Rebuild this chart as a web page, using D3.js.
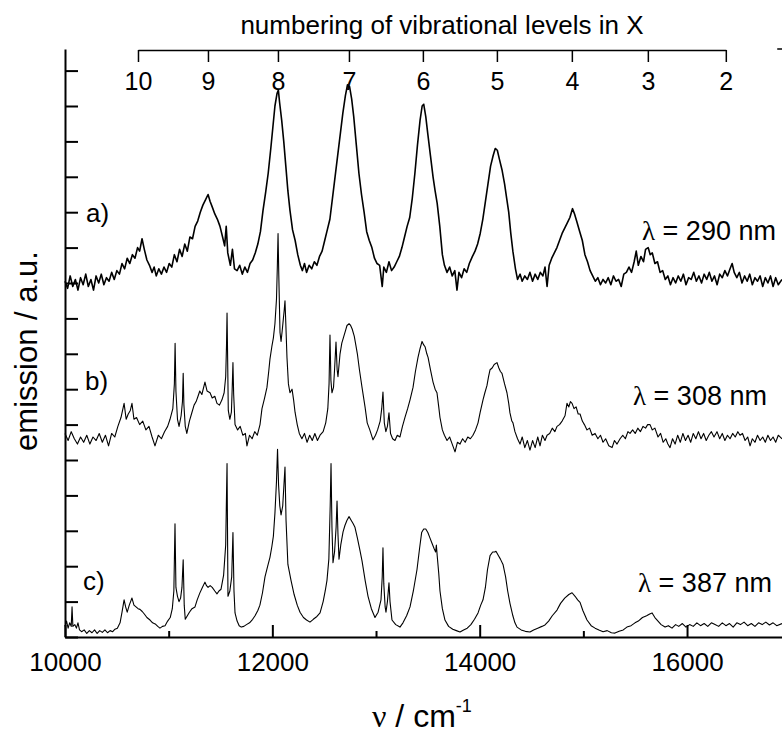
<!DOCTYPE html>
<html>
<head>
<meta charset="utf-8">
<script src="https://cdnjs.cloudflare.com/ajax/libs/d3/7.8.5/d3.min.js"></script>
<style>
  body { margin: 0; background: #fff; }
  svg { display: block; font-family: "Liberation Sans", Arial, sans-serif; }
  .trace { fill: none; stroke: #000; stroke-linejoin: round; }
</style>
</head>
<body>
<div id="chart"></div>
<script>
// emission spectra, [wavenumber cm-1, intensity above own baseline]
var spectrumA = [
  [10000,0.05],[10025,-0.15],[10050,0.2],[10075,-0.1],[10100,0.1],[10125,-0.2],[10150,0.15],[10175,-0.05],
  [10200,0.25],[10225,-0.1],[10250,0.1],[10275,-0.2],[10300,0.2],[10325,0.0],[10350,0.25],[10375,-0.05],
  [10400,0.15],[10425,0.05],[10450,0.3],[10475,0.1],[10500,0.35],[10525,0.25],[10550,0.55],[10575,0.4],
  [10600,0.7],[10625,0.55],[10650,0.8],[10675,0.7],[10700,1.0],[10720,0.9],[10743,1.25],[10765,0.95],
  [10790,0.65],[10815,0.5],[10840,0.3],[10860,0.45],[10880,0.2],[10905,0.4],[10930,0.25],[10955,0.45],
  [10980,0.3],[11005,0.55],[11030,0.45],[11055,0.8],[11080,0.6],[11105,0.95],[11130,0.75],[11155,1.1],
  [11180,0.9],[11205,1.3],[11230,1.25],[11255,1.6],[11280,1.75],[11305,2.0],[11330,2.2],[11355,2.35],
  [11380,2.5],[11400,2.3],[11420,2.15],[11445,1.95],[11470,1.8],[11495,1.6],[11520,1.3],[11540,1.05],
  [11555,1.6],[11570,0.85],[11595,0.5],[11615,0.95],[11635,0.4],[11660,0.35],[11685,0.5],[11710,0.25],
  [11735,0.45],[11760,0.3],[11785,0.55],[11810,0.65],[11835,0.85],[11860,1.1],[11885,1.45],[11910,2.05],
  [11935,2.55],[11960,3.1],[11985,3.8],[12005,4.4],[12025,5.0],[12045,5.35],[12058,5.45],[12070,5.1],
  [12090,4.6],[12110,4.0],[12130,3.3],[12150,2.6],[12170,2.05],[12195,1.5],[12220,1.2],[12245,0.8],
  [12270,0.5],[12290,0.35],[12310,0.55],[12330,0.3],[12355,0.5],[12380,0.4],[12405,0.6],[12430,0.5],
  [12455,0.75],[12480,0.9],[12505,1.2],[12530,1.5],[12555,1.8],[12580,2.4],[12605,3.0],[12630,3.6],
  [12655,4.2],[12680,4.8],[12705,5.3],[12725,5.6],[12745,5.55],[12765,5.2],[12785,4.7],[12810,3.9],
  [12835,3.1],[12860,2.5],[12885,2.0],[12910,1.45],[12935,1.2],[12960,1.0],[12985,0.7],[13010,0.55],
  [13035,0.5],[13060,-0.1],[13075,0.45],[13100,0.3],[13125,0.6],[13150,0.35],[13175,0.45],[13200,0.6],
  [13225,0.75],[13250,1.0],[13275,1.3],[13300,1.6],[13325,1.85],[13350,2.4],[13375,3.1],[13400,3.9],
  [13425,4.6],[13445,5.0],[13460,5.05],[13480,4.7],[13500,4.2],[13525,3.6],[13550,3.0],[13570,2.6],
  [13590,2.25],[13615,1.6],[13640,0.8],[13660,0.5],[13685,0.3],[13710,0.45],[13735,0.2],[13760,0.35],
  [13781,-0.2],[13800,0.3],[13825,0.15],[13850,0.4],[13875,0.3],[13900,0.55],[13930,0.75],[13955,0.9],
  [13980,1.1],[14005,1.4],[14030,1.8],[14055,2.3],[14080,2.8],[14105,3.3],[14130,3.6],[14150,3.8],
  [14170,3.75],[14190,3.5],[14215,3.2],[14240,2.8],[14260,2.4],[14280,2.0],[14300,1.4],[14320,0.9],
  [14345,0.4],[14365,0.1],[14390,0.25],[14410,0.05],[14435,0.2],[14460,0.1],[14485,0.3],[14510,0.05],
  [14535,0.25],[14560,0.1],[14585,0.3],[14610,0.2],[14630,0.45],[14650,-0.1],[14670,0.5],[14695,0.7],
  [14720,0.85],[14745,1.0],[14770,1.2],[14795,1.4],[14820,1.55],[14845,1.7],[14870,1.85],[14895,2.1],
  [14915,1.95],[14940,1.7],[14965,1.45],[14990,1.2],[15015,0.8],[15040,0.6],[15065,0.35],[15090,0.2],
  [15115,0.05],[15140,0.15],[15165,-0.05],[15190,0.1],[15215,0.0],[15240,0.15],[15265,-0.05],[15290,0.2],
  [15315,0.05],[15340,0.1],[15365,-0.1],[15390,0.25],[15415,0.3],[15440,0.45],[15465,0.3],[15490,0.6],
  [15510,0.9],[15530,0.5],[15555,0.75],[15580,0.6],[15600,0.95],[15625,1.0],[15645,0.8],[15665,0.85],
  [15690,0.55],[15715,0.6],[15740,0.3],[15765,0.35],[15790,0.1],[15815,0.2],[15840,-0.05],[15865,0.15],
  [15890,0.0],[15915,0.2],[15940,0.05],[15965,0.25],[15990,-0.05],[16015,0.15],[16040,0.1],[16065,0.3],
  [16090,0.05],[16115,0.2],[16140,0.0],[16165,0.25],[16190,0.1],[16215,0.3],[16240,0.05],[16265,0.2],
  [16290,-0.05],[16315,0.25],[16340,0.15],[16365,0.35],[16390,0.2],[16415,0.4],[16435,0.55],[16455,0.3],
  [16480,0.15],[16505,0.3],[16530,0.0],[16555,0.2],[16580,0.05],[16605,0.25],[16630,-0.05],[16655,0.15],
  [16680,0.05],[16705,0.2],[16730,-0.1],[16755,0.15],[16780,0.0],[16805,0.2],[16830,-0.1],[16855,0.15],
  [16880,-0.05],[16916,0.1]
];

var spectrumB = [
  [10000,0.1],[10030,-0.1],[10060,0.15],[10090,-0.05],[10120,-0.2],[10150,0.0],[10180,-0.15],[10210,0.05],
  [10240,-0.2],[10270,0.0],[10300,-0.1],[10330,0.1],[10360,-0.15],[10390,0.05],[10420,-0.25],[10450,0.1],
  [10480,0.0],[10510,0.3],[10540,0.55],[10570,0.95],[10590,0.5],[10610,0.65],[10630,0.75],[10646,0.95],
  [10665,0.5],[10690,0.55],[10720,0.35],[10750,0.45],[10780,0.2],[10810,0.3],[10840,0.0],[10868,-0.25],
  [10900,0.05],[10930,-0.05],[10960,0.15],[10990,0.3],[11013,0.5],[11040,0.8],[11055,1.5],[11062,2.65],
  [11070,1.3],[11085,0.5],[11100,0.3],[11120,0.6],[11133,1.0],[11140,1.8],[11147,0.9],[11160,0.3],
  [11175,0.1],[11200,0.45],[11220,0.65],[11245,0.9],[11265,1.0],[11283,1.15],[11300,1.3],[11320,1.2],
  [11350,1.55],[11370,1.3],[11399,1.25],[11420,1.1],[11445,1.15],[11466,0.95],[11490,0.9],[11514,1.05],
  [11535,1.25],[11550,1.7],[11558,2.6],[11563,3.5],[11568,2.4],[11575,0.75],[11590,0.5],[11605,0.7],
  [11612,1.3],[11620,2.1],[11627,1.2],[11640,0.35],[11665,0.2],[11690,0.3],[11715,0.05],[11740,0.1],
  [11755,-0.25],[11780,0.05],[11805,-0.05],[11830,0.15],[11855,0.05],[11881,0.35],[11900,0.8],[11925,1.1],
  [11948,1.4],[11965,1.85],[11977,2.2],[11995,2.55],[12010,2.8],[12025,3.2],[12040,3.9],[12048,4.8],
  [12055,5.75],[12062,4.6],[12074,2.95],[12084,2.7],[12095,3.0],[12105,3.3],[12115,3.6],[12122,3.85],
  [12130,3.2],[12141,2.25],[12155,1.5],[12170,1.25],[12190,1.35],[12205,1.05],[12219,0.7],[12240,0.35],
  [12260,0.1],[12285,-0.05],[12310,0.1],[12335,-0.15],[12360,0.05],[12385,-0.1],[12410,0.1],[12435,-0.1],
  [12460,0.05],[12490,0.15],[12515,0.4],[12535,0.8],[12547,1.5],[12556,2.88],[12565,1.6],[12575,1.25],
  [12590,1.4],[12600,1.9],[12614,2.68],[12625,1.9],[12633,1.7],[12653,2.35],[12670,2.65],[12690,2.85],
  [12705,3.0],[12720,3.15],[12740,3.2],[12755,3.15],[12770,3.05],[12790,2.85],[12805,2.6],[12820,2.35],
  [12840,1.9],[12865,1.4],[12894,0.85],[12915,0.4],[12940,0.2],[12971,-0.08],[12995,0.05],[13015,0.2],
  [13040,0.45],[13055,0.8],[13067,1.27],[13080,0.4],[13095,0.15],[13110,0.3],[13125,0.68],[13140,0.1],
  [13160,-0.05],[13183,-0.1],[13205,0.05],[13231,0.0],[13255,0.3],[13280,0.56],[13305,0.8],[13328,1.05],
  [13357,1.4],[13380,1.85],[13405,2.25],[13425,2.5],[13444,2.7],[13460,2.6],[13473,2.55],[13490,2.35],
  [13502,2.25],[13525,1.9],[13550,1.55],[13570,1.35],[13588,1.25],[13605,0.85],[13617,0.55],[13640,0.2],
  [13660,0.05],[13685,-0.1],[13710,0.0],[13735,-0.2],[13762,-0.42],[13785,-0.15],[13810,-0.2],[13835,-0.05],
  [13860,-0.15],[13885,0.0],[13910,-0.05],[13935,0.05],[13960,0.2],[13984,0.4],[14005,0.7],[14032,1.05],
  [14050,1.25],[14070,1.45],[14085,1.7],[14100,1.9],[14120,1.95],[14140,2.05],[14167,2.1],[14185,1.95],
  [14200,1.85],[14215,1.8],[14240,1.5],[14263,1.25],[14280,0.95],[14292,0.68],[14310,0.45],[14321,0.4],
  [14340,0.15],[14365,-0.05],[14389,-0.2],[14410,0.0],[14435,-0.3],[14460,-0.1],[14485,-0.37],[14510,-0.1],
  [14535,-0.3],[14560,0.0],[14582,-0.25],[14605,0.05],[14630,-0.1],[14650,0.05],[14675,0.1],[14700,0.25],
  [14725,0.15],[14746,0.3],[14770,0.35],[14795,0.45],[14823,0.6],[14842,0.95],[14860,0.85],[14875,1.0],
  [14891,0.95],[14910,0.8],[14930,0.85],[14950,0.65],[14968,0.65],[14990,0.45],[15010,0.35],[15035,0.2],
  [15060,0.25],[15085,0.05],[15113,0.1],[15140,-0.05],[15165,0.05],[15190,-0.15],[15215,-0.05],[15245,-0.25],
  [15277,-0.3],[15300,-0.1],[15325,-0.2],[15354,-0.05],[15380,0.05],[15405,-0.05],[15430,0.15],[15450,0.1],
  [15475,0.2],[15500,0.1],[15525,0.25],[15550,0.15],[15576,0.3],[15600,0.25],[15620,0.35],[15643,0.35],
  [15665,0.2],[15690,0.25],[15720,0.0],[15745,0.1],[15770,-0.15],[15795,-0.05],[15815,-0.2],[15836,-0.3],
  [15860,-0.05],[15885,-0.2],[15910,0.05],[15935,-0.15],[15960,0.1],[15985,-0.1],[16010,0.05],[16035,-0.15],
  [16060,0.1],[16085,-0.05],[16110,0.15],[16135,-0.05],[16160,0.1],[16185,-0.1],[16210,0.05],[16235,0.15],
  [16260,0.0],[16289,0.15],[16315,-0.05],[16340,0.1],[16365,-0.1],[16390,0.05],[16415,-0.05],[16440,0.1],
  [16465,0.0],[16490,0.15],[16511,0.05],[16535,0.1],[16560,-0.1],[16585,0.0],[16608,-0.25],[16630,-0.05],
  [16655,-0.15],[16680,0.05],[16705,-0.1],[16730,0.0],[16755,-0.15],[16780,0.05],[16805,-0.1],[16830,0.0],
  [16855,-0.15],[16880,0.05],[16916,-0.05]
];

var spectrumC = [
  [10000,0.2],[10015,0.35],[10030,0.15],[10045,0.3],[10060,0.2],[10068,0.75],[10076,0.2],[10095,0.25],
  [10110,0.15],[10125,0.3],[10140,0.1],[10160,0.05],[10185,0.1],[10210,0.0],[10235,0.08],[10260,0.02],
  [10285,0.1],[10310,0.0],[10335,0.08],[10360,0.03],[10385,0.1],[10410,0.02],[10435,0.08],[10460,0.05],
  [10482,0.12],[10505,0.15],[10531,0.3],[10550,0.6],[10570,0.95],[10585,0.75],[10600,0.6],[10620,0.8],
  [10646,1.0],[10665,0.8],[10685,0.75],[10705,0.7],[10723,0.68],[10745,0.62],[10765,0.55],[10790,0.45],
  [10820,0.38],[10845,0.3],[10870,0.27],[10895,0.2],[10916,0.15],[10940,0.2],[10965,0.22],[10990,0.35],
  [11015,0.45],[11035,0.7],[11050,1.2],[11061,3.1],[11070,1.3],[11085,1.05],[11100,0.9],[11115,1.0],
  [11128,1.3],[11140,2.08],[11150,0.8],[11160,0.4],[11180,0.5],[11200,0.6],[11225,0.7],[11254,0.75],
  [11275,0.95],[11300,1.14],[11325,1.3],[11350,1.45],[11365,1.35],[11380,1.3],[11400,1.35],[11420,1.3],
  [11445,1.2],[11466,1.12],[11485,1.2],[11505,1.25],[11530,1.65],[11550,2.5],[11563,4.8],[11572,1.05],
  [11590,1.2],[11608,1.6],[11620,2.85],[11630,1.2],[11640,0.58],[11660,0.35],[11680,0.22],[11700,0.18],
  [11725,0.2],[11750,0.25],[11780,0.3],[11810,0.4],[11833,0.5],[11860,0.65],[11880,0.8],[11905,1.15],
  [11929,1.6],[11955,1.9],[11977,2.15],[11995,2.45],[12010,2.75],[12025,3.4],[12040,4.3],[12050,5.2],
  [12060,4.2],[12072,3.6],[12084,3.35],[12100,3.6],[12112,4.2],[12122,4.7],[12132,3.2],[12150,1.95],
  [12180,1.5],[12210,1.1],[12240,0.8],[12267,0.6],[12300,0.45],[12330,0.38],[12363,0.32],[12395,0.4],
  [12430,0.48],[12460,0.58],[12490,0.9],[12510,1.2],[12527,1.5],[12545,2.1],[12558,3.6],[12566,4.8],
  [12575,3.0],[12585,2.0],[12600,2.3],[12615,3.0],[12624,3.74],[12633,2.8],[12643,2.1],[12660,2.5],
  [12682,2.87],[12700,3.05],[12720,3.2],[12740,3.3],[12760,3.2],[12780,3.1],[12797,3.0],[12820,2.7],
  [12845,2.35],[12865,2.05],[12895,1.5],[12923,1.05],[12955,0.7],[12990,0.45],[13020,0.6],[13048,0.95],
  [13060,1.6],[13067,2.42],[13075,1.4],[13088,0.75],[13096,0.6],[13110,0.9],[13125,1.43],[13135,0.9],
  [13154,0.38],[13190,0.25],[13231,0.18],[13260,0.3],[13295,0.5],[13328,0.75],[13360,1.2],[13395,1.8],
  [13420,2.4],[13440,2.85],[13460,2.95],[13480,2.95],[13500,2.85],[13520,2.7],[13540,2.55],[13560,2.4],
  [13575,2.3],[13582,2.5],[13590,2.2],[13605,1.7],[13617,1.2],[13640,0.7],[13665,0.38],[13700,0.2],
  [13740,0.12],[13775,0.08],[13810,0.04],[13845,0.1],[13880,0.15],[13915,0.25],[13950,0.4],[13984,0.58],
  [14010,0.8],[14032,0.95],[14055,1.3],[14075,1.8],[14100,2.2],[14125,2.3],[14145,2.3],[14157,2.32],
  [14180,2.2],[14200,2.1],[14225,1.95],[14250,1.6],[14270,1.2],[14292,0.85],[14320,0.5],[14340,0.3],
  [14360,0.18],[14400,0.1],[14440,0.06],[14485,0.04],[14520,0.1],[14560,0.15],[14600,0.2],[14630,0.24],
  [14665,0.35],[14700,0.5],[14746,0.66],[14780,0.85],[14820,1.0],[14860,1.1],[14891,1.15],[14920,1.05],
  [14945,0.95],[14968,0.88],[14995,0.65],[15035,0.38],[15075,0.22],[15113,0.15],[15150,0.1],[15190,0.05],
  [15230,0.08],[15270,0.02],[15305,0.01],[15345,0.06],[15385,0.1],[15420,0.18],[15460,0.22],[15498,0.3],
  [15530,0.35],[15570,0.45],[15610,0.5],[15640,0.55],[15663,0.58],[15690,0.45],[15720,0.35],[15750,0.25],
  [15788,0.18],[15820,0.22],[15855,0.15],[15890,0.25],[15920,0.2],[15955,0.28],[15990,0.18],[16025,0.25],
  [16060,0.2],[16095,0.3],[16130,0.22],[16165,0.28],[16200,0.2],[16235,0.3],[16270,0.25],[16305,0.2],
  [16340,0.3],[16375,0.22],[16410,0.28],[16445,0.18],[16480,0.3],[16515,0.25],[16550,0.32],[16585,0.22],
  [16620,0.28],[16655,0.2],[16690,0.3],[16725,0.25],[16760,0.32],[16795,0.24],[16830,0.3],[16865,0.22],
  [16916,0.28]
];

var spectra = [spectrumA, spectrumB, spectrumC];
var offsets = [10, 5.65, 0.1];
var seriesLabels = ["a)", "b)", "c)"];
var lambdaValues = [290, 308, 387];

// top axis: vibrational levels of X and their wavenumbers
var levelNumbers = [10, 9, 8, 7, 6, 5, 4, 3, 2];
var levelWaves = [10704, 11379, 12054, 12739, 13452, 14166, 14889, 15622, 16374];

var majorTicks = [10000, 12000, 14000, 16000];
var minorTicks = [11000, 13000, 15000];
var yTicks = [0,1,2,3,4,5,6,7,8,9,10,11,12,13,14,15,16];

var width = 782, height = 735;

//Set up scales
var x = d3.scaleLinear()
  .domain([10000, 16916])
  .range([65, 782]);
var y = d3.scaleLinear()
  .domain([0, 16.61])
  .range([637, 49]);
var xTop = d3.scaleLinear()
  .domain([levelWaves[0], levelWaves[levelWaves.length - 1]])
  .range([x(levelWaves[0]), x(levelWaves[levelWaves.length - 1])]);

var svg = d3.select("#chart").append("svg")
  .attr("width", width)
  .attr("height", height);

//Traces
spectra.forEach(function(data, i){
  var line = d3.line()
    .x(function(d){ return x(d[0]); })
    .y(function(d){ return y(d[1] + offsets[i]); });
  svg.append("path")
    .datum(data)
    .attr("class", "trace")
    .attr("stroke-width", i == 0 ? 1.6 : 1.1)
    .attr("d", line);
});

//Bottom axis, labelled ticks
var bottomAxis = svg.append("g")
  .attr("transform", "translate(0,637)")
  .call(d3.axisBottom(x)
    .tickValues(majorTicks)
    .tickSizeInner(-12)
    .tickSizeOuter(0)
    .tickPadding(16)
    .tickFormat(d3.format("d")));
bottomAxis.attr("font-size", 26).attr("font-family", null);
bottomAxis.select(".domain").attr("stroke-width", 2);
bottomAxis.selectAll(".tick line").attr("stroke-width", 2);
bottomAxis.selectAll(".tick text").attr("fill", "#000");

var bottomMinor = svg.append("g")
  .attr("transform", "translate(0,637)")
  .call(d3.axisBottom(x)
    .tickValues(minorTicks)
    .tickSizeInner(-6)
    .tickSizeOuter(0)
    .tickFormat(""));
bottomMinor.select(".domain").remove();
bottomMinor.selectAll(".tick line").attr("stroke-width", 2);

//Left axis, no labels
var leftAxis = svg.append("g")
  .attr("transform", "translate(65,0)")
  .call(d3.axisLeft(y)
    .tickValues(yTicks)
    .tickSizeInner(-13)
    .tickSizeOuter(0)
    .tickFormat(""));
leftAxis.select(".domain").attr("stroke-width", 2);
leftAxis.selectAll(".tick line").attr("stroke-width", 2);

//Top axis, vibrational level numbering
var levelAxis = svg.append("g")
  .attr("transform", "translate(0,50)")
  .call(d3.axisBottom(xTop)
    .tickValues(levelWaves)
    .tickSizeInner(12)
    .tickSizeOuter(0)
    .tickPadding(10)
    .tickFormat(function(d, i){ return levelNumbers[i]; }));
levelAxis.attr("font-size", 25).attr("font-family", null);
levelAxis.select(".domain").attr("stroke-width", 1.5);
levelAxis.selectAll(".tick line").attr("stroke-width", 1.5);
levelAxis.selectAll(".tick text").attr("fill", "#000");

// little frame corner at the top right
svg.append("line")
  .attr("x1", x(16870)).attr("x2", x.range()[1])
  .attr("y1", y.range()[1]).attr("y2", y.range()[1])
  .attr("stroke", "#000")
  .attr("stroke-width", 1.5);

//Titles
svg.append("text")
  .attr("x", 442)
  .attr("y", 34)
  .attr("text-anchor", "middle")
  .attr("font-size", 26)
  .text("numbering of vibrational levels in X");

svg.append("text")
  .attr("transform", "translate(37,351) rotate(-90)")
  .attr("text-anchor", "middle")
  .attr("font-size", 31)
  .text("emission / a.u.");

var xTitle = svg.append("text")
  .attr("x", 372)
  .attr("y", 727)
  .attr("font-size", 32);
xTitle.append("tspan")
  .attr("font-family", "'Liberation Serif', 'DejaVu Serif', serif")
  .text("ν");
xTitle.append("tspan").text(" / cm");
xTitle.append("tspan")
  .attr("font-size", 18)
  .attr("dy", -15)
  .text("-1");

//Series labels
var labelY = [222, 390, 590];
var labelX = [86, 85, 83];
var lambdaY = [240, 405, 592];
var lambdaX = [642, 633, 638];

seriesLabels.forEach(function(s, i){
  svg.append("text")
    .attr("x", labelX[i])
    .attr("y", labelY[i])
    .attr("font-size", 26)
    .text(s);

  var t = svg.append("text")
    .attr("x", lambdaX[i])
    .attr("y", lambdaY[i])
    .attr("font-size", 27);
  t.append("tspan")
    .attr("font-family", "'Liberation Serif', 'DejaVu Serif', serif")
    .text("λ");
  t.append("tspan").text(" = " + lambdaValues[i] + " nm");
});
</script>
</body>
</html>
